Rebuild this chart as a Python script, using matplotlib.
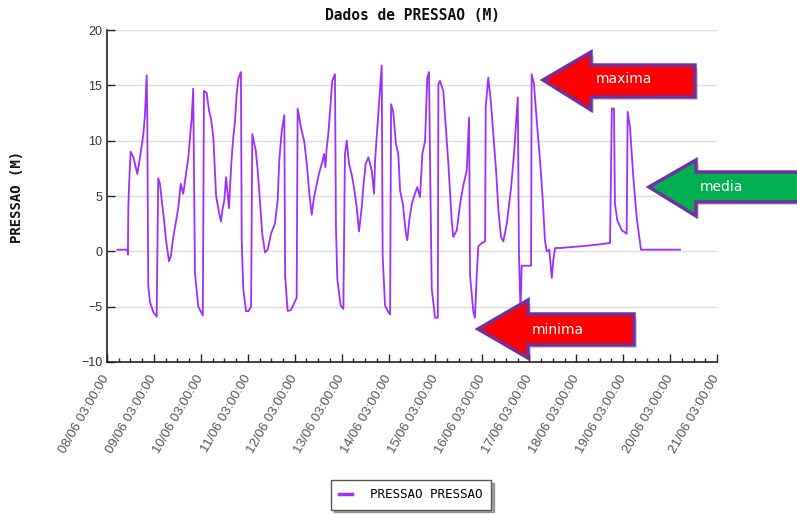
import numpy as np
import pandas as pd
import matplotlib
matplotlib.use('Agg')
import matplotlib.pyplot as plt
import matplotlib.dates as mdates
from matplotlib.patches import Polygon

# hours since 08/06 03:00 and pressure readings (m)
hours = [5.3, 10.4, 10.7, 10.9, 11.3, 12.1, 13.5, 15.5, 16.9, 18.1, 18.6, 19.4, 20.3, 20.6,
         21.1, 22.0, 23.7, 25.4, 26.2, 27.1, 28.0, 29.2, 30.2, 31.7, 32.7, 33.9, 35.1, 36.5,
         37.7, 39.0, 40.4, 41.6, 43.3, 44.1, 45.0, 46.7, 49.0, 49.6, 51.0, 52.2, 53.2, 54.4,
         55.8, 57.3, 58.3, 59.0, 60.0, 60.9, 61.7, 62.4, 63.1, 63.8, 64.6, 65.5, 66.3, 67.2,
         68.5, 68.9, 69.7, 71.1, 72.3, 73.7, 74.3, 76.1, 77.1, 78.3, 79.4, 80.8, 82.2, 83.9,
         85.9, 87.3, 88.1, 89.4, 90.7, 91.1, 92.4, 94.1, 97.0, 97.5, 99.2, 100.9, 102.2, 103.5,
         104.7, 105.9, 107.3, 108.4, 110.3, 111.0, 111.7, 112.4, 113.2, 114.1, 115.2, 116.6,
         117.1, 117.8, 119.5, 120.9, 121.7, 122.6, 123.8, 125.2, 126.3, 127.7, 128.9, 130.3,
         131.1, 132.3, 133.7, 135.4, 136.6, 137.1, 138.3, 139.3, 140.5, 141.0, 142.2, 143.9,
         144.8, 145.3, 146.4, 147.8, 149.0, 149.9, 151.3, 152.9, 153.6, 154.6, 155.9, 157.5,
         158.7, 160.1, 161.3, 162.7, 163.8, 164.7, 165.2, 166.1, 167.8, 169.2, 169.5, 170.3,
         172.0, 173.3, 174.6, 176.3, 177.1, 178.9, 180.6, 182.3, 184.0, 185.2, 185.7, 187.4,
         188.2, 189.1, 189.9, 191.7, 193.4, 193.7, 195.0, 196.3, 197.6, 199.0, 200.2, 201.5,
         202.7, 204.5, 206.7, 208.3, 210.1, 210.7, 211.3, 211.5, 212.1, 213.8, 216.9, 217.2,
         218.4, 219.8, 221.5, 222.9, 224.0, 224.9, 226.2, 227.5, 228.3, 229.2, 231.7, 241.9,
         250.5, 257.3, 258.2, 259.3, 259.8, 261.0, 263.3, 265.8, 266.3, 267.5, 269.2, 270.9,
         273.1, 293.1]
pressao = [0.15, 0.15, -0.3, 4.0, 6.1, 9.0, 8.5, 7.0, 8.5, 10.0, 10.6, 12.3, 15.9, 12.0,
           -3.1, -4.6, -5.5, -5.9, 6.6, 6.1, 4.6, 2.8, 1.0, -0.9, -0.4, 1.3, 2.5, 4.0,
           6.1, 5.2, 7.0, 8.5, 12.0, 14.7, -2.0, -5.0, -5.8, 14.5, 14.3, 12.7, 12.0, 10.3,
           5.0, 3.5, 2.7, 3.7, 4.6, 6.7, 5.2, 3.9, 6.4, 8.5, 10.3, 11.8, 14.2, 15.6,
           16.2, 1.0, -3.4, -5.4, -5.4, -5.0, 10.6, 9.1, 7.3, 4.3, 1.6, -0.1, 0.15, 1.6,
           2.5, 4.6, 8.2, 10.9, 12.3, -2.2, -5.4, -5.3, -4.2, 12.9, 11.2, 9.9, 7.9, 5.2,
           3.3, 4.9, 6.1, 7.0, 8.2, 8.8, 7.6, 9.4, 10.6, 12.7, 15.4, 16.0,
           2.2, -2.5, -4.9, -5.2, 8.8, 10.0, 7.9, 6.9, 5.8, 4.0, 1.8, 4.0,
           5.8, 7.9, 8.5, 7.3, 5.2, 8.2, 11.2, 13.6, 16.8, -0.4, -4.9, -5.5,
           -5.7, 13.3, 12.6, 9.7, 8.8, 5.5, 4.3, 1.6, 1.0, 2.8, 4.3, 5.2,
           5.8, 4.9, 8.8, 10.0, 15.7, 16.2, 8.5, -3.4, -6.0, -6.0, 15.1, 15.4,
           14.5, 11.2, 7.9, 2.8, 1.3, 1.9, 4.3, 6.0, 7.3, 12.1, -2.2, -5.5,
           -6.0, -2.2, 0.45, 0.75, 0.9, 13.0, 15.7, 13.6, 10.6, 7.3, 3.7, 1.3,
           0.9, 2.5, 5.8, 9.1, 13.9, -0.1, -4.3, -5.5, -1.3, -1.3, -1.3, 16.0,
           15.1, 11.8, 8.2, 4.6, 1.0, 0.0, 0.15, -2.4, -0.75, 0.3, 0.3, 0.45,
           0.6, 0.75, 12.9, 12.9, 4.3, 2.8, 1.9, 1.6, 12.6, 11.2, 6.7, 3.1,
           0.15, 0.15]

start = pd.Timestamp('2015-06-08 03:00:00')
end = pd.Timestamp('2015-06-21 03:00:00')
times = start + pd.to_timedelta(hours, unit='h')

W, H = 797, 514
fig = plt.figure(figsize=(W / 100, H / 100), dpi=100)
ax = fig.add_axes([107 / W, 1 - 362 / H, 610 / W, 332 / H])

ax.plot(times, pressao, color='#9B30FF', linewidth=1.3, label='PRESSAO PRESSAO')

ax.set_xlim(start, end)
ax.set_ylim(-10, 20)
ax.set_yticks([-10, -5, 0, 5, 10, 15, 20])
ax.yaxis.grid(True, color='#dddddd', linewidth=1.0)
ax.set_axisbelow(True)
for s in ['top', 'right']:
    ax.spines[s].set_visible(False)
for s in ['left', 'bottom']:
    ax.spines[s].set_color('#222222')
    ax.spines[s].set_linewidth(1.2)

ax.xaxis.set_major_locator(mdates.HourLocator(byhour=[3]))
ax.xaxis.set_minor_locator(mdates.HourLocator(byhour=[9, 15, 21]))
ax.xaxis.set_major_formatter(mdates.DateFormatter('%d/%m %H:%M:%S'))
ax.tick_params(axis='x', which='major', direction='in', length=6, width=1, color='#222222', pad=10)
ax.tick_params(axis='x', which='minor', direction='in', length=3, width=1, color='#222222')
ax.tick_params(axis='y', direction='in', length=6, width=1, color='#222222',
               labelsize=9, labelcolor='#333333')
for lbl in ax.get_yticklabels():
    lbl.set_fontfamily('Liberation Sans')
for lbl in ax.get_xticklabels():
    lbl.set_rotation(60)
    lbl.set_ha('right')
    lbl.set_va('center')
    lbl.set_rotation_mode('anchor')
    lbl.set_fontsize(9.5)
    lbl.set_fontfamily('Liberation Sans')
    lbl.set_color('#555555')

fig.text(412 / W, 1 - 16 / H, 'Dados de PRESSAO (M)', ha='center', va='center',
         fontsize=10.5, fontweight='bold', family='DejaVu Sans Mono', color='#111111')
fig.text(17 / W, 1 - 197 / H, 'PRESSAO (M)', ha='center', va='center', rotation=90,
         fontsize=10, fontweight='bold', family='DejaVu Sans Mono', color='#111111')

leg = fig.legend(loc='center', bbox_to_anchor=(411 / W, 1 - 495 / H),
                 prop={'family': 'DejaVu Sans Mono', 'size': 9},
                 frameon=True, fancybox=False, shadow=True, handlelength=1.0,
                 handletextpad=1.5, borderpad=0.65, borderaxespad=0)
leg.get_frame().set_edgecolor('#555555')
leg.get_frame().set_linewidth(1.0)
for line in leg.get_lines():
    line.set_linewidth(2.5)

# block arrows (pixel outlines), drawn over the figure
def block_arrow(pts, face, text, tx, ty):
    shadow = [((x + 3) / W, 1 - (y + 3) / H) for x, y in pts]
    fig.add_artist(Polygon(shadow, closed=True, facecolor='#000000', alpha=0.18,
                           edgecolor='none', transform=fig.transFigure, clip_on=False))
    poly = [(x / W, 1 - y / H) for x, y in pts]
    fig.add_artist(Polygon(poly, closed=True, facecolor=face, edgecolor='#7030A0',
                           linewidth=2.5, joinstyle='miter',
                           transform=fig.transFigure, clip_on=False))
    fig.text(tx / W, 1 - ty / H, text, ha='center', va='center', color='white',
             fontsize=10, family=['Liberation Sans Narrow', 'DejaVu Sans'])

block_arrow([(543, 80), (591, 52), (591, 65), (695, 65), (695, 97), (591, 97), (591, 110)],
            '#FF0000', 'maxima', 624, 79)
block_arrow([(649, 187), (696, 160), (696, 172), (805, 172), (805, 202), (696, 202), (696, 216)],
            '#00B050', 'media', 721, 187)
block_arrow([(478, 329), (528, 300), (528, 314), (634, 314), (634, 345), (528, 345), (528, 358)],
            '#FF0000', 'minima', 558, 330)

fig.savefig('out.png', dpi=100)
